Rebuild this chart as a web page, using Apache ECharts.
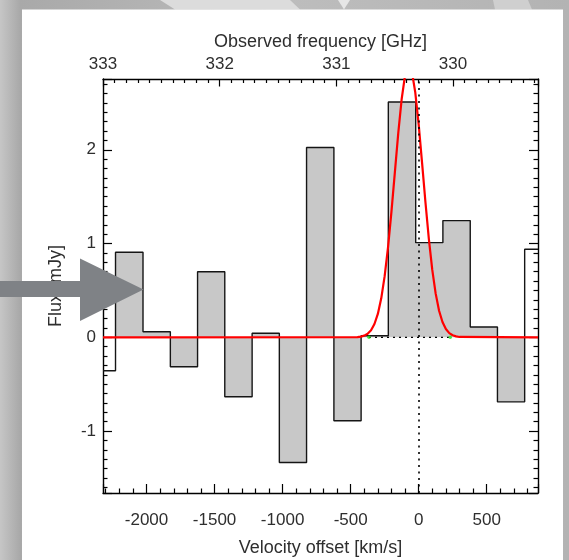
<!DOCTYPE html>
<html><head><meta charset="utf-8">
<script src="https://cdn.jsdelivr.net/npm/echarts@6/dist/echarts.min.js"></script>
<style>html,body{margin:0;padding:0;background:#bdbdbd}#c{width:569px;height:560px}</style>
</head><body><div id="c"></div>
<script>
// ---- data ----
const binLeftEdges = [-2228, -2026, -1825, -1625, -1425, -1224, -1024, -824, -623, -423, -223, -22, 178, 379, 579];
const binRightEdge = 779;
const binFlux = [0.907, 0.06, -0.314, 0.70, -0.634, 0.043, -1.335, 2.025, -0.89, 0.017, 2.51, 1.01, 1.245, 0.11, -0.688];
const leftPartialFlux = -0.357;   // partial channel cut by the left frame
const rightPartialFlux = 0.94;    // partial channel cut by the right frame
const fitVelocity = [-2320, -450, -425, -400, -375, -350, -325, -300, -275, -250, -225, -200, -175, -150, -125, -100, -72, -50, -25, 0, 25, 50, 75, 100, 125, 150, 175, 200, 225, 250, 275, 300, 877];
const fitFlux = [0, 0.003, 0.008, 0.018, 0.038, 0.076, 0.142, 0.250, 0.416, 0.652, 0.962, 1.340, 1.759, 2.177, 2.540, 2.795, 2.90, 2.835, 2.613, 2.272, 1.861, 1.438, 1.047, 0.719, 0.466, 0.284, 0.164, 0.089, 0.045, 0.022, 0.010, 0.004, 0];
const lineWindowVelocity = [-365, 232];
const velocityTicks = [-2000, -1500, -1000, -500, 0, 500];
const fluxTicks = [-1, 0, 1, 2];
const freqTicks = [330, 331, 332, 333];
const velocityRange = [-2320, 877];
const fluxRange = [-1.66, 2.755];
const freqRange = [329.272, 333];

// ---- build series data ----
const fillData = binLeftEdges.map((e, i) => [e, binFlux[i]]);
fillData.push([binRightEdge, binFlux[binFlux.length - 1]]);
const outlineData = [[velocityRange[0], leftPartialFlux]]
  .concat(binLeftEdges.map((e, i) => [e, binFlux[i]]))
  .concat([[binRightEdge, rightPartialFlux], [velocityRange[1], rightPartialFlux]]);
const fitData = fitVelocity.map((v, i) => [v, fitFlux[i]]);

const FONT = 'Liberation Sans';
const TXT = '#2e2e2e';
const fmt = ticks => v => ticks.some(t => Math.abs(t - v) < 1e-6) ? String(Math.round(v)) : '';
const lab = (ticks, margin) => ({margin, fontSize: 17, color: TXT, fontFamily: FONT, formatter: fmt(ticks), showMinLabel: true, showMaxLabel: true});
const axLine = {show: true, onZero: false, lineStyle: {color: '#000', width: 1.4}};
const nameStyle = {fontSize: 18, color: TXT, fontFamily: FONT};

const chart = echarts.init(document.getElementById('c'), null, {renderer: 'canvas'});
chart.setOption({
  animation: false,
  backgroundColor: 'transparent',
  grid: {left: 103, top: 79, width: 435, height: 414, containLabel: false, outerBoundsMode: 'none'},
  xAxis: [
    {type: 'value', position: 'bottom', min: velocityRange[0], max: velocityRange[1],
     axisLine: axLine,
     axisTick: {show: true, inside: true, length: 9, lineStyle: {color: '#000', width: 1.2}},
     minorTick: {show: true, splitNumber: 5, length: 4.5, lineStyle: {color: '#000', width: 1.2}},
     splitLine: {show: false}, minorSplitLine: {show: false},
     axisLabel: lab(velocityTicks, 19),
     name: 'Velocity offset [km/s]', nameLocation: 'middle', nameGap: 46, nameTextStyle: nameStyle},
    {type: 'value', position: 'top', min: freqRange[0], max: freqRange[1], inverse: true,
     axisLine: axLine,
     axisTick: {show: true, inside: true, length: 7.5, lineStyle: {color: '#000', width: 1.2}},
     minorTick: {show: true, splitNumber: 10, length: 4, lineStyle: {color: '#000', width: 1.2}},
     splitLine: {show: false}, minorSplitLine: {show: false},
     axisLabel: lab(freqTicks, 6),
     name: 'Observed frequency [GHz]', nameLocation: 'middle', nameGap: 26, nameTextStyle: nameStyle}
  ],
  yAxis: [
    {type: 'value', position: 'left', min: fluxRange[0], max: fluxRange[1],
     axisLine: axLine,
     axisTick: {show: true, inside: true, length: 9, lineStyle: {color: '#000', width: 1.2}},
     minorTick: {show: true, splitNumber: 10, length: 4.5, lineStyle: {color: '#000', width: 1.2}},
     splitLine: {show: false}, minorSplitLine: {show: false},
     axisLabel: lab(fluxTicks, 7),
     name: 'Flux [mJy]', nameLocation: 'middle', nameRotate: 90, nameGap: 38, nameTextStyle: nameStyle},
    {type: 'value', position: 'right', min: fluxRange[0], max: fluxRange[1],
     axisLine: axLine,
     axisTick: {show: true, inside: true, length: 9, lineStyle: {color: '#000', width: 1.2}},
     minorTick: {show: true, splitNumber: 10, length: 4.5, lineStyle: {color: '#000', width: 1.2}},
     splitLine: {show: false}, minorSplitLine: {show: false},
     axisLabel: {show: false}}
  ],
  series: [
    {type: 'line', name: 'fill', xAxisIndex: 0, yAxisIndex: 0, step: 'end', symbol: 'none', silent: true,
     data: fillData, lineStyle: {width: 0, opacity: 0}, areaStyle: {color: '#c8c8c8', opacity: 1, origin: 'auto'}, z: 1},
    {type: 'line', name: 'spectrum', xAxisIndex: 0, yAxisIndex: 0, step: 'end', symbol: 'none', silent: true,
     data: outlineData, lineStyle: {color: '#151515', width: 1.4}, z: 3},
    {type: 'line', name: 'window', xAxisIndex: 0, yAxisIndex: 0, symbol: 'none', silent: true,
     data: lineWindowVelocity.map(v => [v, 0]), lineStyle: {color: '#000', width: 1.4, type: [2, 4]}, z: 3,
     markLine: {silent: true, symbol: ['none', 'none'], label: {show: false},
       lineStyle: {color: '#000', width: 1.6, type: [2, 4.5]}, data: [{xAxis: 0}]}},
    {type: 'line', name: 'fit', xAxisIndex: 0, yAxisIndex: 0, symbol: 'none', silent: true, clip: true,
     data: fitData, lineStyle: {color: '#ff0000', width: 2.2}, z: 4},
    {type: 'scatter', name: 'ends', xAxisIndex: 0, yAxisIndex: 0, silent: true,
     data: lineWindowVelocity.map(v => [v, 0]), symbolSize: 3.5, itemStyle: {color: '#22e022'}, z: 5}
  ],
  graphic: [
    {type: 'rect', z: -20, silent: true, shape: {x: 0, y: 0, width: 569, height: 560},
     style: {fill: new echarts.graphic.LinearGradient(0, 0, 1, 0, [{offset: 0, color: '#c6c6c6'}, {offset: 0.035, color: '#a9a9a9'}, {offset: 0.5, color: '#bdbdbd'}, {offset: 1, color: '#b3b3b3'}])}},
    {type: 'polygon', z: -19, silent: true, shape: {points: [[160, 0], [290, 0], [300, 9.5], [175, 9.5]]}, style: {fill: '#dcdcdc'}},
    {type: 'polygon', z: -19, silent: true, shape: {points: [[338, 0], [350, 0], [344, 9.5]]}, style: {fill: '#e6e6e6'}},
    {type: 'polygon', z: -19, silent: true, shape: {points: [[493, 0], [528, 0], [532, 9.5], [495, 9.5]]}, style: {fill: '#cfcfcf'}},
    {type: 'rect', z: -18, silent: true, shape: {x: 22, y: 9.5, width: 541, height: 551}, style: {fill: '#ffffff'}},
    {type: 'polygon', z: 100, silent: true,
     shape: {points: [[0, 281], [80, 281], [80, 258.5], [143.5, 289.5], [80, 321], [80, 297], [0, 297]]},
     style: {fill: '#7f8286'}}
  ]
});
</script></body></html>
